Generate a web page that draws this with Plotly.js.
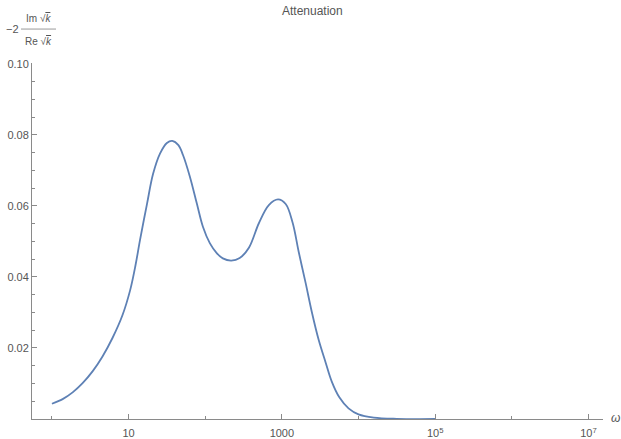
<!DOCTYPE html>
<html>
<head>
<meta charset="utf-8">
<script src="https://cdn.plot.ly/plotly-3.0.1.min.js"></script>
<style>
html,body{margin:0;padding:0;background:#fff;}
#chart{width:621px;height:439px;}
</style>
</head>
<body>
<div id="chart"></div>
<script>
// Data (omega on a log axis)
const omega = [1, 1.380, 1.862, 2.512, 3.388, 4.571, 6.166, 8.318, 10.47, 12.30, 14.13, 17.38, 20.89, 25.70, 31.62, 37.15, 44.67, 51.29, 63.10, 77.62, 93.33, 114.8, 141.3, 169.8, 218.8, 281.8, 371.5, 501.2, 676.1, 891.3, 1122, 1380, 1660, 2042, 2455, 3020, 3715, 4467, 5623, 7413, 10000, 15850, 31620, 100000];
const attenuation = [0.0043, 0.0056, 0.0075, 0.0101, 0.0134, 0.0176, 0.0228, 0.0292, 0.0362, 0.0432, 0.0505, 0.0605, 0.0690, 0.0747, 0.0777, 0.0783, 0.0771, 0.0743, 0.0682, 0.0607, 0.0541, 0.0495, 0.0467, 0.0452, 0.0446, 0.0453, 0.0482, 0.0551, 0.0602, 0.0618, 0.0605, 0.0553, 0.0470, 0.0383, 0.0302, 0.0223, 0.0160, 0.0106, 0.0061, 0.0030, 0.0013, 0.0004, 0.00005, 0.0];

const xTickVals = [10, 1000, 1e5, 1e7];
const xTickText = ["10", "1000", "10<sup>5</sup>", "10<sup>7</sup>"];
const xMinorVals = [1, 100, 1e4, 1e6];
const yTickVals = [0.02, 0.04, 0.06, 0.08, 0.10];
const yTickText = ["0.02", "0.04", "0.06", "0.08", "0.10"];

const axisColor = "#8a8a8a";
const textColor = "#555555";
const font = "Liberation Sans, Arial, sans-serif";

const trace = {
  x: omega, y: attenuation, type: "scatter", mode: "lines",
  line: {color: "#5E81B5", width: 1.8, shape: "spline", smoothing: 1},
  hoverinfo: "skip"
};

const W = 621 - 32 - 18, H = 439 - 63 - 19.5;
function px(x){ return (x - 32) / W; }
function py(y){ return (439 - 19.5 - y) / H; }

const layout = {
  width: 621, height: 439,
  margin: {l: 32, r: 18, t: 63, b: 19.5, pad: 0},
  paper_bgcolor: "#fff", plot_bgcolor: "#fff",
  showlegend: false,
  font: {family: font, size: 11, color: textColor},
  title: {text: "Attenuation", x: 0.503, xanchor: "center", y: 0.975, yanchor: "middle", font: {family: font, size: 12, color: textColor}},
  xaxis: {
    type: "log", range: [-0.26, 7.19],
    showgrid: false, zeroline: false,
    showline: true, linecolor: axisColor, linewidth: 1,
    ticks: "inside", ticklen: 5, tickcolor: axisColor, tickwidth: 1,
    tickmode: "array", tickvals: xTickVals, ticktext: xTickText,
    ticklabelstandoff: 4,
    tickfont: {family: font, size: 11, color: textColor},
    minor: {tickmode: "array", tickvals: xMinorVals, ticks: "inside", ticklen: 3, tickcolor: axisColor, showgrid: false}
  },
  yaxis: {
    range: [0, 0.1002],
    showgrid: false, zeroline: false,
    showline: true, linecolor: axisColor, linewidth: 1,
    ticks: "inside", ticklen: 5, tickcolor: axisColor, tickwidth: 1,
    tickmode: "array", tickvals: yTickVals, ticktext: yTickText,
    tickfont: {family: font, size: 11, color: textColor},
    minor: {tickmode: "linear", tick0: 0, dtick: 0.005, ticks: "inside", ticklen: 3, tickcolor: axisColor, showgrid: false}
  },
  shapes: [
    {type: "line", xref: "paper", yref: "paper", x0: px(21), x1: px(56), y0: py(29), y1: py(29), line: {color: "#9a9a9a", width: 1}}
  ],
  annotations: [
    {xref: "paper", yref: "paper", x: px(615), y: py(418), xanchor: "center", yanchor: "middle", text: "<i>ω</i>", showarrow: false, font: {family: font, size: 12, color: textColor}},
    {xref: "paper", yref: "paper", x: px(12), y: py(29), xanchor: "center", yanchor: "middle", text: "−2", showarrow: false, font: {family: font, size: 11, color: textColor}},
    {xref: "paper", yref: "paper", x: px(38.5), y: py(18), xanchor: "center", yanchor: "middle", text: "Im √<i><span style='text-decoration:overline'>k</span></i>", showarrow: false, font: {family: font, size: 10, color: textColor}},
    {xref: "paper", yref: "paper", x: px(38.5), y: py(41), xanchor: "center", yanchor: "middle", text: "Re √<i><span style='text-decoration:overline'>k</span></i>", showarrow: false, font: {family: font, size: 10, color: textColor}}
  ]
};

Plotly.newPlot("chart", [trace], layout, {staticPlot: true, displayModeBar: false});
</script>
</body>
</html>
